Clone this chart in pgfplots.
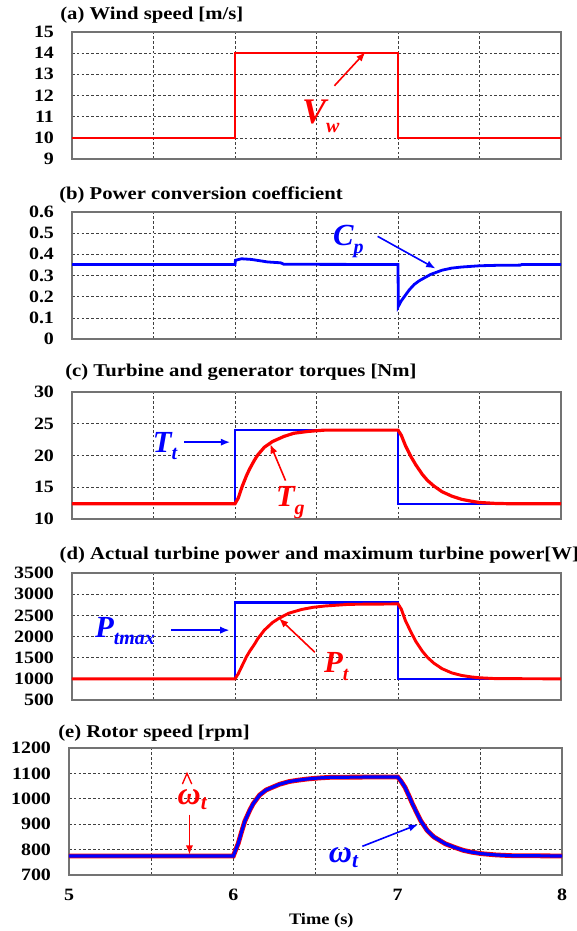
\documentclass[border=0pt]{standalone}
\usepackage{fontspec}
\setmainfont{Liberation Serif}[FakeStretch=1.15]
\newfontfamily\labfont{Liberation Serif}
\usepackage{pgfplots}
\pgfplotsset{compat=1.18}
\usetikzlibrary{arrows.meta}
\definecolor{pred}{RGB}{255,0,0}
\definecolor{pblue}{RGB}{0,0,255}
\pgfplotsset{
  panel/.style={
    scale only axis, width=366.75pt, height=95.25pt,
    xmin=5, xmax=8, xtick={5,5.5,6,6.5,7,7.5,8}, xticklabels={},
    grid=major,
    major grid style={black!75, line width=0.5pt, dash pattern=on 2pt off 1.6pt},
    major tick length=0pt,
    axis line style={black!55, line width=1pt},
    tick label style={font=\fontsize{13}{13}\selectfont\bfseries},
    yticklabel style={xshift=-10pt},
    clip=true,
  },
}
\tikzset{ann/.style={-{Latex[length=7pt,width=5.5pt]}, line width=1.2pt}}
\newcommand{\lab}[3]{{\labfont\bfseries\itshape\fontsize{#1}{#1}\selectfont #2\raisebox{-0.25em}{\fontsize{15}{15}\selectfont #3}}}
\begin{document}
\begin{tikzpicture}
\useasboundingbox (0,0) rectangle (432.75pt,-698.25pt);
% titles
\begin{scope}[every node/.style={anchor=west, inner sep=0pt, font=\fontsize{13.5}{14}\selectfont\bfseries}]
\node at (45pt,-11.25pt) {(a) Wind speed [m/s]};
\node at (44.25pt,-146.25pt) {(b) Power conversion coefficient};
\node at (48.75pt,-279pt) {(c) Turbine and generator torques [Nm]};
\node at (44.6pt,-416.25pt) {(d) Actual turbine power and maximum turbine power[W]};
\node at (43.5pt,-549.75pt) {(e) Rotor speed [rpm]};
\end{scope}

% (a)
\begin{axis}[panel, at={(54pt,-119.25pt)}, anchor=south west,
  ymin=9, ymax=15, ytick={9,10,11,12,13,14,15}, yticklabels={9,10,11,12,13,14,15}]
\addplot[pred, line width=1.9pt] coordinates {(5,10)(6,10)(6,14)(7,14)(7,10)(8,10)};
\draw[ann, pred] (axis cs:6.61,12.46) -- (axis cs:6.8,14.05);
\node[anchor=base west, inner sep=0pt, text=pred] at (axis cs:6.41,10.7) {\lab{27}{V}{w}};
\end{axis}

% (b)
\begin{axis}[panel, at={(54pt,-254.25pt)}, anchor=south west,
  ymin=0, ymax=0.6, ytick={0,0.1,0.2,0.3,0.4,0.5,0.6}, yticklabels={0,0.1,0.2,0.3,0.4,0.5,0.6}]
\addplot[pblue, line width=2.1pt] coordinates {(5,0.352)(6,0.352)(6.003,0.372)(6.04,0.379)(6.1,0.376)(6.15,0.37)(6.2,0.364)(6.28,0.36)(6.3,0.353)(7,0.352)(7.002,0.154)(7.02,0.18)(7.05,0.212)(7.07,0.233)(7.1,0.258)(7.13,0.275)(7.16,0.288)(7.2,0.305)(7.27,0.325)(7.33,0.335)(7.39,0.34)(7.5,0.346)(7.6,0.348)(7.75,0.349)(7.76,0.352)(8,0.352)};
\draw[ann, pblue] (axis cs:6.875,0.485) -- (axis cs:7.23,0.333);
\node[anchor=base west, inner sep=0pt, text=pblue] at (axis cs:6.6,0.44) {\lab{23}{C}{p}};
\end{axis}

% (c)
\begin{axis}[panel, at={(54pt,-389.25pt)}, anchor=south west,
  ymin=10, ymax=30, ytick={10,15,20,25,30}, yticklabels={10,15,20,25,30}]
\addplot[pblue, line width=1.4pt] coordinates {(5,12.4)(6,12.4)(6,24)(7,24)(7,12.4)(8,12.4)};
\addplot[pred, line width=2.4pt] coordinates {(5,12.4)(6,12.4)(6.02,13.3)(6.045,15.2)(6.07,16.8)(6.09,17.9)(6.12,19.3)(6.14,20.1)(6.18,21.3)(6.23,22.2)(6.3,23.0)(6.36,23.5)(6.45,23.8)(6.55,24.0)(7,24.0)(7.02,23.2)(7.045,21.6)(7.08,19.8)(7.11,18.5)(7.15,17.0)(7.18,16.1)(7.22,15.2)(7.27,14.3)(7.33,13.6)(7.39,13.1)(7.45,12.8)(7.5,12.6)(7.6,12.45)(7.7,12.4)(8,12.4)};
\draw[ann, pblue] (axis cs:5.69,22.1) -- (axis cs:5.97,22.1);
\node[anchor=base west, inner sep=0pt, text=pblue] at (axis cs:5.495,20.5) {\lab{23}{T}{t}};
\draw[ann, pred] (axis cs:6.31,16.05) -- (axis cs:6.216,21.8);
\node[anchor=base west, inner sep=0pt, text=pred] at (axis cs:6.25,11.95) {\lab{23}{T}{g}};
\end{axis}

% (d)
\begin{axis}[panel, at={(54pt,-525pt)}, anchor=south west,
  ymin=500, ymax=3500, ytick={500,1000,1500,2000,2500,3000,3500}, yticklabels={500,1000,1500,2000,2500,3000,3500}]
\addplot[pblue, line width=1.8pt] coordinates {(5,1000)(6,1000)(6,2800)(7,2800)(7,1000)(8,1000)};
\addplot[pred, line width=2.2pt] coordinates {(5,1000)(6,1000)(6.02,1120)(6.045,1320)(6.07,1520)(6.09,1650)(6.12,1820)(6.14,1950)(6.18,2150)(6.23,2330)(6.27,2430)(6.33,2550)(6.41,2640)(6.48,2690)(6.55,2720)(6.7,2760)(7,2770)(7.02,2650)(7.045,2380)(7.08,2100)(7.11,1880)(7.15,1650)(7.18,1510)(7.22,1370)(7.27,1240)(7.33,1140)(7.39,1080)(7.45,1045)(7.5,1025)(7.6,1005)(8,1000)};
\draw[ann, pblue] (axis cs:5.61,2150) -- (axis cs:5.966,2150);
\node[anchor=base west, inner sep=0pt, text=pblue] at (axis cs:5.14,1988) {\lab{23}{P}{tmax}};
\draw[ann, pred] (axis cs:6.49,1627) -- (axis cs:6.27,2430);
\node[anchor=base west, inner sep=0pt, text=pred] at (axis cs:6.545,1144) {\lab{23}{P}{t}};
\end{axis}

% (e)
\begin{axis}[panel, at={(51.75pt,-656.25pt)}, anchor=south west, width=369.75pt,
  ymin=700, ymax=1200, ytick={700,800,900,1000,1100,1200}, yticklabels={700,800,900,1000,1100,1200},
  xticklabels={5,,6,,7,,8}, xticklabel style={yshift=-7pt}]
\addplot[pred, line width=3.6pt] coordinates {(5,775)(6,775)(6.015,800)(6.03,825)(6.05,870)(6.07,912)(6.1,955)(6.12,980)(6.16,1015)(6.2,1035)(6.28,1057)(6.34,1068)(6.39,1073)(6.45,1078)(6.52,1082)(6.6,1085)(7,1086)(7.02,1070)(7.045,1045)(7.07,1010)(7.09,980)(7.12,940)(7.14,914)(7.18,875)(7.22,850)(7.29,823)(7.35,808)(7.4,797)(7.45,790)(7.51,784)(7.6,779)(7.7,776)(8,775)};
\addplot[pblue, line width=2.4pt] coordinates {(5,775)(6,775)(6.015,800)(6.03,825)(6.05,870)(6.07,912)(6.1,955)(6.12,980)(6.16,1015)(6.2,1035)(6.28,1057)(6.34,1068)(6.39,1073)(6.45,1078)(6.52,1082)(6.6,1085)(7,1086)(7.02,1070)(7.045,1045)(7.07,1010)(7.09,980)(7.12,940)(7.14,914)(7.18,875)(7.22,850)(7.29,823)(7.35,808)(7.4,797)(7.45,790)(7.51,784)(7.6,779)(7.7,776)(8,775)};
\draw[ann, pred] (axis cs:5.733,938) -- (axis cs:5.733,780);
\node[anchor=base west, inner sep=0pt, text=pred] at (axis cs:5.66,978) {\labfont\bfseries\itshape\fontsize{24}{24}\selectfont ω\raisebox{-0.15em}{\fontsize{16}{16}\selectfont t}};
\draw[pred, line width=1pt] (axis cs:5.69,1058) -- (axis cs:5.718,1100) -- (axis cs:5.747,1058);
\draw[ann, pblue] (axis cs:6.785,813) -- (axis cs:7.124,899);
\node[anchor=base west, inner sep=0pt, text=pblue] at (axis cs:6.58,748) {\labfont\bfseries\itshape\fontsize{24}{24}\selectfont ω\raisebox{-0.15em}{\fontsize{16}{16}\selectfont t}};
\end{axis}
\node[font=\fontsize{12}{12}\selectfont\bfseries] at (241pt,-690.75pt) {Time (s)};
\end{tikzpicture}
\end{document}
